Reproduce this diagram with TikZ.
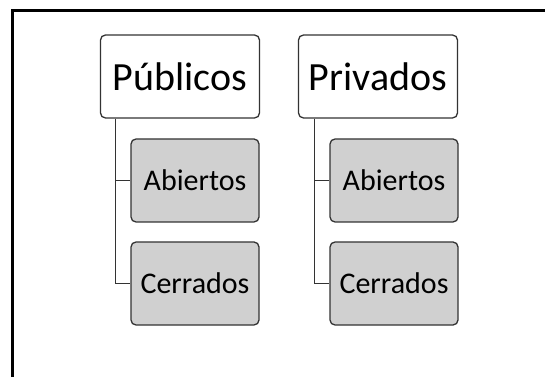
\documentclass[tikz,border=0pt]{standalone}
\usepackage{fontspec}
\setmainfont{Carlito}
\usepackage{tikz}
\definecolor{boxline}{HTML}{333333}
\definecolor{subfill}{HTML}{D0D0D0}
\newcommand{\bigtxt}{\fontsize{40}{46}\selectfont}
\newcommand{\smalltxt}{\fontsize{30}{36}\selectfont}

\begin{document}
\begin{tikzpicture}[x=1pt, y=1pt,
    topbox/.style = {draw=boxline, line width=1.3pt, rounded corners=5pt, fill=white,
      minimum width=159pt, minimum height=83pt, inner sep=0pt, font=\bigtxt},
    subbox/.style = {draw=boxline, line width=1.3pt, rounded corners=5pt, fill=subfill,
      minimum width=128pt, minimum height=83pt, inner sep=0pt, font=\smalltxt},
    link/.style = {draw=boxline, line width=1.2pt}]

      \useasboundingbox (0,0) rectangle (545,377);
      \draw[line width=3pt] (12.5,0) -- (12.5,366) -- (545,366);

      \node[topbox] (pub) at (180,300.5) {Públicos};
      \node[subbox] (pubA) at (195,196.5) {Abiertos};
      \node[subbox] (pubC) at (195,93.5) {Cerrados};

      \node[topbox] (priv) at (378,300.5) {Privados};
      \node[subbox] (privA) at (394,196.5) {Abiertos};
      \node[subbox] (privC) at (394,93.5) {Cerrados};

      \draw[link] ([xshift=16pt]pub.south west) |- (pubA.west);
      \draw[link] ([xshift=16pt]pub.south west) |- (pubC.west);
      \draw[link] ([xshift=16.5pt]priv.south west) |- (privA.west);
      \draw[link] ([xshift=16.5pt]priv.south west) |- (privC.west);
    \end{tikzpicture}
\end{document}
